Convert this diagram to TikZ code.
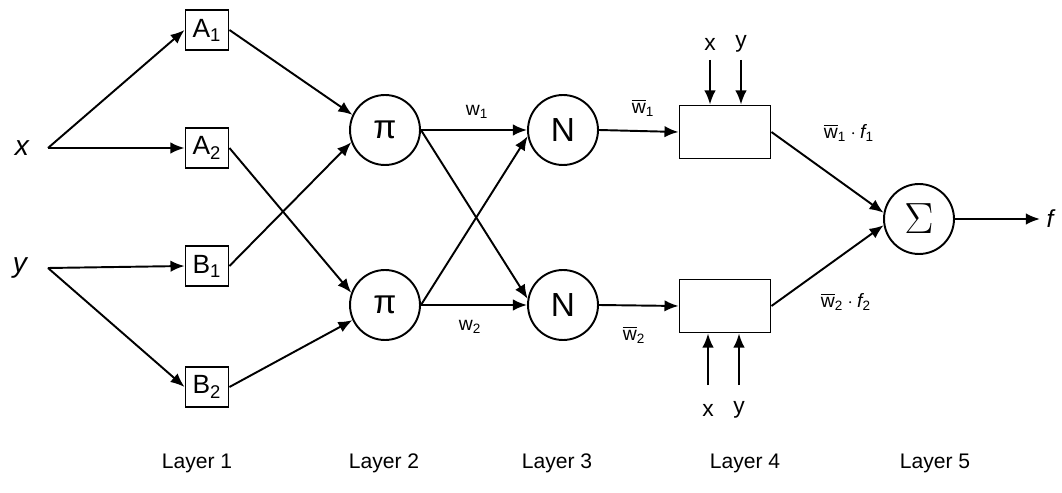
\documentclass[tikz,border=0pt]{standalone}
\usepackage{amsmath}
\usepackage{fontspec}
\setmainfont{Liberation Sans}
\usetikzlibrary{arrows.meta}
\begin{document}
\begin{tikzpicture}[x=0.02cm,y=-0.02cm,
  every node/.style={inner sep=0pt},
  conn/.style={line width=1.1pt,-{Latex[length=8pt,width=6.5pt]}},
  mf/.style={draw,line width=1.1pt,minimum width=0.86cm,minimum height=0.8cm,font=\fontsize{15}{16}\selectfont},
  opn/.style={draw,circle,line width=1.1pt,minimum size=1.4cm,font=\fontsize{19}{20}\selectfont},
  rule/.style={draw,line width=1.1pt,minimum width=1.82cm,minimum height=1.06cm},
  lbl/.style={font=\fontsize{11}{12}\selectfont},
  lay/.style={font=\fontsize{12}{13}\selectfont},
  inp/.style={font=\fontsize{13}{14}\selectfont}]
\useasboundingbox (0,0) rectangle (1062,493);
% inputs
\node[font=\fontsize{16}{17}\selectfont\itshape] (xl) at (22,148) {x};
\node[font=\fontsize{16}{17}\selectfont\itshape] (yl) at (20,268) {y};
\coordinate (xs) at (48,148);
\coordinate (ys) at (48,268);
% layer 1
\node[mf] (A1) at (207,30) {A$_{\text{1}}$};
\node[mf] (A2) at (207,148) {A$_{\text{2}}$};
\node[mf] (B1) at (207,266) {B$_{\text{1}}$};
\node[mf] (B2) at (207,387) {B$_{\text{2}}$};
% layer 2
\node[opn] (P1) at (385,130) {π};
\node[opn] (P2) at (385,305) {π};
% layer 3
\node[opn] (N1) at (563,130) {N};
\node[opn] (N2) at (563,305) {N};
% layer 4
\node[rule] (R1) at (725,132) {};
\node[rule] (R2) at (725,306) {};
% layer 5
\node[opn,font=\fontsize{28}{30}\selectfont] (S) at (919,219) {$\Sigma$};
\node[font=\fontsize{14}{15}\selectfont\itshape] (f) at (1050,219) {f};
% top / bottom x y
\node[inp] (tx) at (710,44) {x};
\node[inp] (ty) at (741,44) {y};
\node[inp] (bx) at (708,410) {x};
\node[inp] (by) at (739,410) {y};
\coordinate (txs) at (710,60);
\coordinate (tys) at (741,60);
\coordinate (bxs) at (708,385);
\coordinate (bys) at (739,385);
\coordinate (fe) at (1040,219);
% connectors
\draw[conn] (xs) -- (A1.west);
\draw[conn] (xs) -- (A2.west);
\draw[conn] (ys) -- (B1.west);
\draw[conn] (ys) -- (B2.west);
\draw[conn] (A1.east) -- (P1.155);
\draw[conn] (B1.east) -- (P1.200);
\draw[conn] (A2.east) -- (P2.160);
\draw[conn] (B2.east) -- (P2.205);
\draw[conn] (P1.east) -- (N1.west);
\draw[conn] (P1.east) -- (N2.170);
\draw[conn] (P2.east) -- (N1.190);
\draw[conn] (P2.east) -- (N2.west);
\draw[conn] (N1.east) -- (R1.west);
\draw[conn] (N2.east) -- (R2.west);
\draw[conn] (R1.east) -- (S.170);
\draw[conn] (R2.east) -- (S.190);
\draw[conn] (S.east) -- (fe);
\draw[conn] (txs) -- (txs |- R1.north);
\draw[conn] (tys) -- (tys |- R1.north);
\draw[conn] (bxs) -- (bxs |- R2.south);
\draw[conn] (bys) -- (bys |- R2.south);
% weight labels
\node[lbl] (w1) at (477,112) {w$_{\text{1}}$};
\node[lbl] (w2) at (470,327) {w$_{\text{2}}$};
\node[lbl] (nw1) at (643,108) {$\overline{\text{w}}_{\text{1}}$};
\node[lbl] (nw2) at (634,335) {$\overline{\text{w}}_{\text{2}}$};
\node[lbl] (o1) at (849,133) {$\overline{\text{w}}_{\text{1}}\cdot\textit{f}_{\text{1}}$};
\node[lbl] (o2) at (846,302) {$\overline{\text{w}}_{\text{2}}\cdot\textit{f}_{\text{2}}$};
% layer labels
\node[lay] (L1) at (197,463) {Layer 1};
\node[lay] (L2) at (384,463) {Layer 2};
\node[lay] (L3) at (557,463) {Layer 3};
\node[lay] (L4) at (745,463) {Layer 4};
\node[lay] (L5) at (935,463) {Layer 5};
\end{tikzpicture}
\end{document}
